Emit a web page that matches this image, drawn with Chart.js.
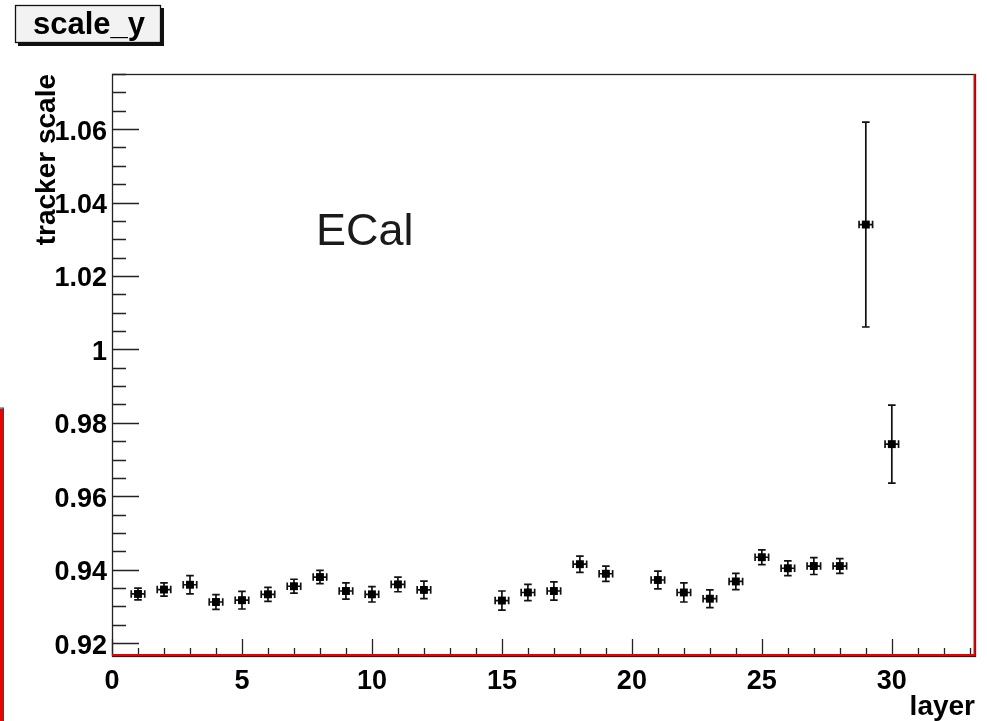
<!DOCTYPE html>
<html><head><meta charset="utf-8">
<script src="https://cdn.jsdelivr.net/npm/chart.js@4/dist/chart.umd.min.js"></script>
<style>html,body{margin:0;padding:0;background:#fff;}#wrap{width:987px;height:721px;position:relative;}</style>
</head><body><div id="wrap"><canvas id="c"></canvas></div>
<script>
// ---- data ----
const layers = [1,2,3,4,5,6,7,8,9,10,11,12,15,16,17,18,19,21,22,23,24,25,26,27,28,29,30];
const scaleValues = [0.9334,0.9346,0.9359,0.9312,0.9317,0.9333,0.9355,0.9380,0.9342,0.9333,0.9360,0.9345,
  0.9316,0.9338,0.9342,0.9415,0.9389,0.9372,0.9338,0.9321,0.9368,0.9434,0.9404,0.9410,0.9410,1.0340,0.9742];
const scaleErrors = [0.0016,0.0018,0.0025,0.0020,0.0024,0.0019,0.0019,0.0018,0.0022,0.0021,0.0020,0.0024,
  0.0026,0.0022,0.0025,0.0022,0.0021,0.0024,0.0026,0.0024,0.0022,0.0020,0.0020,0.0023,0.0020,0.0279,0.0106];
const layerErrors = layers.map(() => 0.26);
const xTickValues = [0,5,10,15,20,25,30];
const xTickLabels = ['0','5','10','15','20','25','30'];
const yTickValues = [0.92,0.94,0.96,0.98,1,1.02,1.04,1.06];
const yTickLabels = ['0.92','0.94','0.96','0.98','1','1.02','1.04','1.06'];
const chartTitle = 'scale_y';
const xTitle = 'layer';
const yTitle = 'tracker scale';
const noteText = 'ECal';
const noteAt = {x: 7.85, y: 1.0285};

const FONT = "'Liberation Sans', Arial, Helvetica, sans-serif";

const rootPlugin = {
  id: 'rootStyle',
  beforeDraw(chart) {
    const ctx = chart.ctx;
    ctx.save(); ctx.fillStyle = '#fff'; ctx.fillRect(0, 0, chart.width, chart.height); ctx.restore();
  },
  beforeDatasetsDraw(chart) {
    const ctx = chart.ctx, xs = chart.scales.x, ys = chart.scales.y;
    ctx.save();
    ctx.strokeStyle = '#111'; ctx.lineWidth = 1.7;
    const cap = 3.8;
    layers.forEach((lx, i) => {
      const px = xs.getPixelForValue(lx), py = ys.getPixelForValue(scaleValues[i]);
      const yt = ys.getPixelForValue(scaleValues[i] + scaleErrors[i]);
      const yb = ys.getPixelForValue(scaleValues[i] - scaleErrors[i]);
      const xl = xs.getPixelForValue(lx - layerErrors[i]);
      const xr = xs.getPixelForValue(lx + layerErrors[i]);
      ctx.beginPath();
      ctx.moveTo(px, yt); ctx.lineTo(px, yb);
      ctx.moveTo(px - cap, yt); ctx.lineTo(px + cap, yt);
      ctx.moveTo(px - cap, yb); ctx.lineTo(px + cap, yb);
      ctx.moveTo(xl, py); ctx.lineTo(xr, py);
      ctx.moveTo(xl, py - cap); ctx.lineTo(xl, py + cap);
      ctx.moveTo(xr, py - cap); ctx.lineTo(xr, py + cap);
      ctx.stroke();
    });
    ctx.restore();
  },
  afterDraw(chart) {
    const ctx = chart.ctx, xs = chart.scales.x, ys = chart.scales.y;
    const a = chart.chartArea;
    ctx.save();
    // inward ticks
    ctx.strokeStyle = '#222'; ctx.lineWidth = 1.3;
    ctx.beginPath();
    for (let v = 0; v <= xs.max + 1e-9; v += 1) {
      const px = Math.round(xs.getPixelForValue(v)) + 0.5;
      const len = (v % 5 === 0) ? 17 : 8;
      ctx.moveTo(px, a.bottom); ctx.lineTo(px, a.bottom - len);
    }
    const yStep = (yTickValues[1] - yTickValues[0]) / 4;
    const yStart = yTickValues[0] - Math.floor((yTickValues[0] - ys.min) / yStep) * yStep;
    for (let k = 0; ; k++) {
      const v = yStart + k * yStep;
      if (v > ys.max + 1e-9) break;
      const py = Math.round(ys.getPixelForValue(v)) + 0.5;
      const major = yTickValues.some(t => Math.abs(t - v) < 1e-6);
      ctx.moveTo(a.left, py); ctx.lineTo(a.left + (major ? 27 : 14), py);
    }
    ctx.stroke();
    // frame
    ctx.strokeStyle = '#222'; ctx.lineWidth = 1.3;
    ctx.strokeRect(a.left + 0.5, a.top + 0.5, a.right - a.left, a.bottom - a.top);
    // red highlight lines
    ctx.fillStyle = '#ee0000';
    ctx.fillRect(a.left, a.bottom - 2, a.right - a.left, 2);
    ctx.fillRect(a.right - 1.5, a.top, 2, a.bottom - a.top);
    ctx.fillRect(0, 409, 3, chart.height - 409);
    ctx.fillStyle = '#444';
    ctx.fillRect(0, 407.5, 4, 1.2);
    ctx.fillRect(3, 408, 1, chart.height - 408);
    // title box
    const bx = 15, by = 5, bw = 146, bh = 38;
    ctx.fillStyle = '#111';
    ctx.fillRect(bx + 3, by + 3, bw, bh);
    ctx.fillStyle = '#f2f2f2';
    ctx.fillRect(bx, by, bw, bh);
    ctx.strokeStyle = '#111'; ctx.lineWidth = 1.3;
    ctx.strokeRect(bx + 0.5, by + 0.5, bw - 1, bh - 1);
    ctx.fillStyle = '#000';
    ctx.font = 'bold 31px ' + FONT;
    ctx.textAlign = 'center'; ctx.textBaseline = 'alphabetic';
    ctx.fillText(chartTitle, bx + bw / 2 + 1, 34);
    // note text
    ctx.fillStyle = '#1a1a1a';
    ctx.font = '45px ' + FONT;
    ctx.textAlign = 'left';
    ctx.fillText(noteText, xs.getPixelForValue(noteAt.x), ys.getPixelForValue(noteAt.y));
    ctx.restore();
  }
};

new Chart(document.getElementById('c'), {
  type: 'scatter',
  data: {
    datasets: [{
      data: layers.map((x, i) => ({x, y: scaleValues[i]})),
      pointStyle: 'rect', pointRadius: 5.6, pointHoverRadius: 5.6,
      backgroundColor: '#000', borderColor: '#000', borderWidth: 0, showLine: false
    }]
  },
  options: {
    responsive: true, maintainAspectRatio: false, animation: false,
    devicePixelRatio: 1,
    layout: {padding: {top: 74, right: 12, left: 0, bottom: 0}},
    plugins: {legend: {display: false}, tooltip: {enabled: false}, title: {display: false}},
    events: [],
    scales: {
      x: {
        type: 'linear', min: 0, max: 33.2,
        grid: {display: false, drawTicks: false}, border: {display: false},
        afterFit(s) { s.height = 65; },
        afterBuildTicks(s) { s.ticks = xTickValues.map(v => ({value: v})); },
        ticks: {
          padding: 9, color: '#000', maxRotation: 0, autoSkip: false,
          font: {family: FONT, size: 27, weight: 'bold'},
          callback: (v) => { const i = xTickValues.indexOf(v); return i >= 0 ? xTickLabels[i] : ''; }
        },
        title: {display: true, text: xTitle, align: 'end', color: '#000',
          font: {family: FONT, size: 28, weight: 'bold'}, padding: {top: 0, bottom: -3}}
      },
      y: {
        type: 'linear', min: 0.9165, max: 1.075,
        grid: {display: false, drawTicks: false}, border: {display: false},
        afterFit(s) { s.width = 112; },
        afterBuildTicks(s) { s.ticks = yTickValues.map(v => ({value: v})); },
        ticks: {
          padding: 5, color: '#000', autoSkip: false, labelOffset: 3,
          font: {family: FONT, size: 27, weight: 'bold'},
          callback: (v) => { const i = yTickValues.findIndex(t => Math.abs(t - v) < 1e-9); return i >= 0 ? yTickLabels[i] : ''; }
        },
        title: {display: true, text: yTitle, align: 'end', color: '#000',
          font: {family: FONT, size: 28, weight: 'bold'}, padding: {top: 30, bottom: 0}}
      }
    }
  },
  plugins: [rootPlugin]
});
</script>
</body></html>
